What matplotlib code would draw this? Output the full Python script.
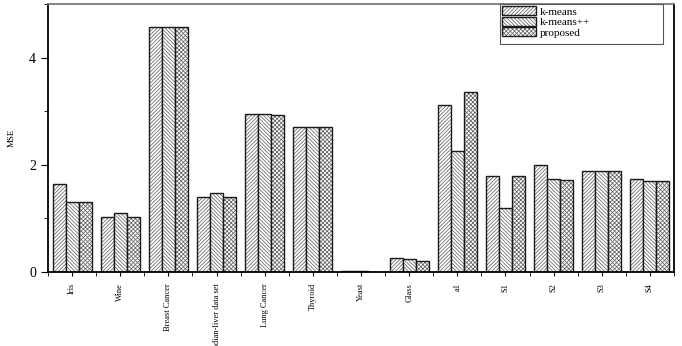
import numpy as np
import matplotlib
matplotlib.use("Agg")
import matplotlib.pyplot as plt
from matplotlib.ticker import MultipleLocator
from matplotlib.patches import Rectangle
from matplotlib.legend_handler import HandlerTuple

plt.rcParams['font.family'] = ['Liberation Serif', 'DejaVu Serif']
plt.rcParams['hatch.linewidth'] = 0.55

# data
datasets = ["Iris", "Wine", "Breast Cancer", "Indian-liver data set", "Lung Cancer",
            "Thyroid", "Yeast", "Glass", "a1", "S1", "S2", "S3", "S4"]
kmeans = [1.64, 1.03, 4.58, 1.40, 2.94, 2.70, 0.02, 0.27, 3.11, 1.80, 1.99, 1.88, 1.74]
kmeanspp = [1.31, 1.10, 4.58, 1.47, 2.95, 2.70, 0.01, 0.24, 2.26, 1.20, 1.73, 1.88, 1.70]
proposed = [1.31, 1.03, 4.58, 1.40, 2.92, 2.70, 0.0, 0.21, 3.36, 1.80, 1.71, 1.88, 1.69]
labels = ['k-means', 'k-means++', 'proposed']
hatches = ['/' * 9, '\\' * 9, 'x' * 8]

fig = plt.figure(figsize=(6.82, 3.46), dpi=100)
ax = fig.add_axes([48/682, 1 - 272/346, 626/682, 268/346])

x = np.arange(len(datasets))
w = 0.27
handles = []
for i, vals in enumerate([kmeans, kmeanspp, proposed]):
    pos = x + (i - 1) * w
    # hatch layer (gray lines) + black outline
    h1 = ax.bar(pos, vals, w, facecolor='white', edgecolor='#666666', hatch=hatches[i], linewidth=0)
    h2 = ax.bar(pos, vals, w, fill=False, edgecolor='#1a1a1a', linewidth=1.0)
    handles.append((h1, h2))

ax.set_xlim(-0.5, len(datasets) - 0.5)
ax.set_ylim(0, 5.0)
ax.set_xticks(x)
ax.set_xticklabels(datasets, rotation=90, fontsize=6)
ax.xaxis.set_minor_locator(MultipleLocator(1, offset=0.5))
ax.yaxis.set_major_locator(MultipleLocator(2))
ax.yaxis.set_minor_locator(MultipleLocator(1))
ax.tick_params(axis='y', labelsize=10, direction='out', length=5, width=0.8)
ax.tick_params(axis='y', which='minor', length=3)
ax.tick_params(axis='x', direction='out', length=3, width=0.8, pad=5)
ax.tick_params(axis='x', which='minor', length=3)
ax.set_ylabel('MSE', fontsize=6.5, labelpad=10)

for s in ax.spines.values():
    s.set_linewidth(1.3)
ax.spines['top'].set_color('#777777')

# legend with a wide frame as in the original
ax.add_patch(Rectangle((0.722, 0.852), 0.26, 0.148, transform=ax.transAxes,
                       facecolor='white', edgecolor='#555555', linewidth=0.8, zorder=4))
leg = ax.legend(handles, labels, loc='upper left', bbox_to_anchor=(0.722, 1.0), fontsize=8,
                frameon=False, handlelength=3.0, handleheight=0.9, labelspacing=0.0,
                borderpad=0.2, borderaxespad=0.0, handletextpad=0.4,
                handler_map={tuple: HandlerTuple(ndivide=1, pad=0)})
leg.set_zorder(5)

fig.savefig('out.png', dpi=100)
